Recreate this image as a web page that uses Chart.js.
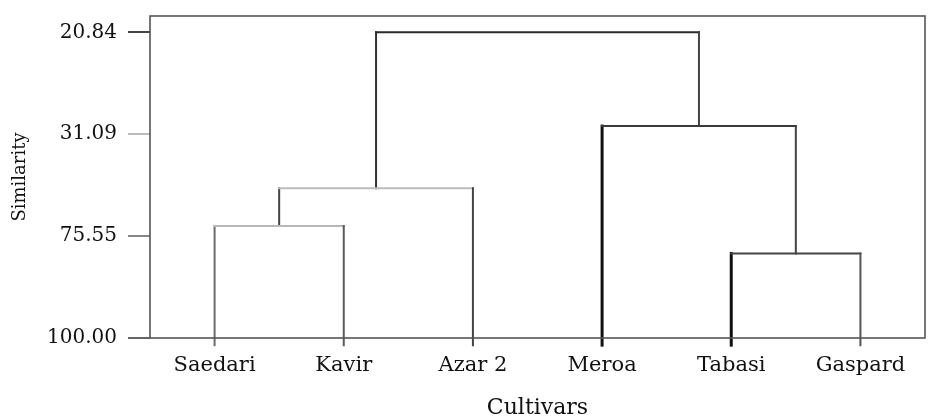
<!DOCTYPE html>
<html>
<head>
<meta charset="utf-8">
<script src="https://cdn.jsdelivr.net/npm/chart.js@4"></script>
<style>
  html, body { margin: 0; padding: 0; background: #fff; }
  #wrap { width: 933px; height: 419px; }
</style>
</head>
<body>
<div id="wrap"><canvas id="myChart"></canvas></div>
<script>
// leaves of the dendrogram, left to right
const cultivars = ['Saedari', 'Kavir', 'Azar 2', 'Meroa', 'Tabasi', 'Gaspard'];
// similarity tick labels, bottom to top (evenly spaced on the axis)
const similarityTicks = ['100.00', '75.55', '31.09', '20.84'];
// merges: pairs of node ids (0-5 leaves, 6+ earlier merges in order)
const merges = [[0, 1], [6, 2], [4, 5], [3, 8], [7, 9]];
// height of each merge, in tick steps above 100.00
const mergeHeights = [1.10, 1.47, 0.83, 2.08, 3.0];
const leafBase = -0.07;

// colours / widths for [left arm, bar, right arm] of each merge
const armColors = [
    ['#6a6a6a', '#b8b8b8', '#5a5a5a'],
    ['#444444', '#bcbcbc', '#444444'],
    ['#111111', '#444444', '#555555'],
    ['#111111', '#3a3a3a', '#444444'],
    ['#333333', '#2a2a2a', '#444444']
];
const armWidths = [
    [2, 2, 2],
    [2, 2, 2],
    [3, 2, 2],
    [3, 2, 2],
    [2, 2, 2]
];

// node positions built from the tree
const nodeX = cultivars.map((c, i) => i);
const nodeH = cultivars.map(() => leafBase);
const datasets = [];
merges.forEach((m, k) => {
    const [a, b] = m;
    const h = mergeHeights[k];
    datasets.push({
        data: [
            {x: nodeX[a], y: nodeH[a]},
            {x: nodeX[a], y: h},
            {x: nodeX[b], y: h},
            {x: nodeX[b], y: nodeH[b]}
        ],
        borderColor: armColors[k][1],
        borderWidth: 2,
        segment: {
            borderColor: ctx => armColors[k][ctx.p0DataIndex],
            borderWidth: ctx => armWidths[k][ctx.p0DataIndex]
        },
        pointRadius: 0,
        tension: 0,
        clip: false,
        borderCapStyle: 'square',
        borderJoinStyle: 'miter'
    });
    nodeX.push((nodeX[a] + nodeX[b]) / 2);
    nodeH.push(h);
});

const frame = {
    id: 'frame',
    afterDatasetsDraw(chart) {
        const a = chart.chartArea;
        const c = chart.ctx;
        c.save();
        c.strokeStyle = '#555';
        c.lineWidth = 1.6;
        c.strokeRect(a.left, a.top, a.right - a.left, a.bottom - a.top);
        c.restore();
    }
};

const tickGridColors = ['#666', '#888', '#bbb', '#444'];

const ctx = document.getElementById('myChart');
const myChart = new Chart(ctx, {
    type: 'line',
    data: { datasets: datasets },
    plugins: [frame],
    options: {
        responsive: true,
        maintainAspectRatio: false,
        animation: false,
        layout: { padding: { top: 16, right: 8, left: 0, bottom: 0 } },
        plugins: {
            legend: { display: false },
            tooltip: { enabled: false }
        },
        scales: {
            x: {
                type: 'linear',
                min: -0.5,
                max: 5.5,
                afterBuildTicks: s => { s.ticks = cultivars.map((c, i) => ({value: i})); },
                afterFit: s => { s.height = 81; s.paddingLeft = 0; s.paddingRight = 0; },
                grid: { display: false, drawTicks: false },
                border: { display: false },
                ticks: {
                    callback: v => cultivars[v],
                    padding: 15,
                    color: '#111',
                    maxRotation: 0,
                    font: { family: 'DejaVu Serif', size: 21 }
                },
                title: {
                    display: true,
                    text: 'Cultivars',
                    color: '#111',
                    padding: { top: 0, bottom: 0 },
                    font: { family: 'DejaVu Serif', size: 22, lineHeight: 1 }
                }
            },
            y: {
                min: 0,
                max: 3.16,
                afterBuildTicks: s => { s.ticks = similarityTicks.map((t, i) => ({value: i})); },
                afterFit: s => { s.width = 150; s.paddingTop = 0; s.paddingBottom = 0; },
                grid: {
                    drawOnChartArea: false,
                    drawTicks: true,
                    tickLength: 22,
                    lineWidth: 2,
                    color: c => tickGridColors[c.index]
                },
                border: { display: false },
                ticks: {
                    callback: v => similarityTicks[v],
                    padding: 11,
                    color: '#111',
                    font: { family: 'DejaVu Serif', size: 20 }
                },
                title: {
                    display: true,
                    text: 'Similarity',
                    color: '#111',
                    padding: { top: 10, bottom: 0 },
                    font: { family: 'DejaVu Serif', size: 18 }
                }
            }
        }
    }
});
</script>
</body>
</html>
